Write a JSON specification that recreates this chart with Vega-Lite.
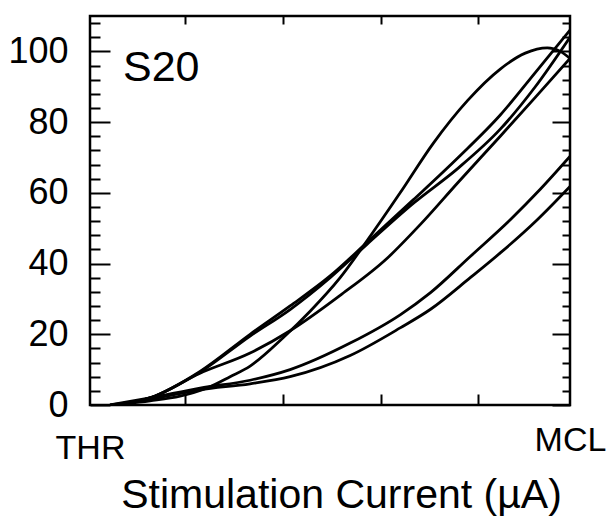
{
  "$schema": "https://vega.github.io/schema/vega-lite/v6.json",
  "autosize": "none",
  "width": 480,
  "height": 389,
  "padding": {"left": 90, "top": 16, "right": 45, "bottom": 111},
  "background": "white",
  "config": {
    "view": {"stroke": "black", "strokeWidth": 2.5},
    "font": "Liberation Sans",
    "axis": {"grid": false, "labelFont": "Liberation Sans", "titleFont": "Liberation Sans", "labelColor": "black", "titleColor": "black", "tickColor": "black", "domainColor": "black", "tickWidth": 2}
  },
  "data": {
    "values": [
      {"curve": "A", "x": 0.0501, "y": 0},
      {"curve": "A", "x": 0.128, "y": 1.2},
      {"curve": "A", "x": 0.1894, "y": 2.5},
      {"curve": "A", "x": 0.2448, "y": 4.8},
      {"curve": "A", "x": 0.2919, "y": 8},
      {"curve": "A", "x": 0.3329, "y": 11},
      {"curve": "A", "x": 0.4005, "y": 19},
      {"curve": "A", "x": 0.4558, "y": 26.5},
      {"curve": "A", "x": 0.5173, "y": 36},
      {"curve": "A", "x": 0.5726, "y": 46.5},
      {"curve": "A", "x": 0.6402, "y": 60},
      {"curve": "A", "x": 0.7079, "y": 74},
      {"curve": "A", "x": 0.7776, "y": 86},
      {"curve": "A", "x": 0.8452, "y": 95},
      {"curve": "A", "x": 0.8964, "y": 99.5},
      {"curve": "A", "x": 0.9415, "y": 101},
      {"curve": "A", "x": 0.9681, "y": 100},
      {"curve": "A", "x": 0.988, "y": 98},
      {"curve": "B1", "x": 0.0624, "y": 0},
      {"curve": "B1", "x": 0.128, "y": 2},
      {"curve": "B1", "x": 0.2304, "y": 9.5},
      {"curve": "B1", "x": 0.3329, "y": 20},
      {"curve": "B1", "x": 0.4148, "y": 28},
      {"curve": "B1", "x": 0.4968, "y": 36.5},
      {"curve": "B1", "x": 0.5726, "y": 46},
      {"curve": "B1", "x": 0.6669, "y": 58},
      {"curve": "B1", "x": 0.7591, "y": 70},
      {"curve": "B1", "x": 0.8452, "y": 82},
      {"curve": "B1", "x": 0.9169, "y": 94},
      {"curve": "B1", "x": 0.988, "y": 106},
      {"curve": "B2", "x": 0.0624, "y": 0},
      {"curve": "B2", "x": 0.128, "y": 2},
      {"curve": "B2", "x": 0.2304, "y": 9.3},
      {"curve": "B2", "x": 0.3329, "y": 19.5},
      {"curve": "B2", "x": 0.4148, "y": 27},
      {"curve": "B2", "x": 0.4968, "y": 36},
      {"curve": "B2", "x": 0.5726, "y": 45.5},
      {"curve": "B2", "x": 0.6669, "y": 57},
      {"curve": "B2", "x": 0.7591, "y": 67},
      {"curve": "B2", "x": 0.8452, "y": 78},
      {"curve": "B2", "x": 0.9169, "y": 90},
      {"curve": "B2", "x": 0.988, "y": 104},
      {"curve": "C", "x": 0.0624, "y": 0},
      {"curve": "C", "x": 0.128, "y": 2},
      {"curve": "C", "x": 0.2304, "y": 9},
      {"curve": "C", "x": 0.3329, "y": 14.7},
      {"curve": "C", "x": 0.4148, "y": 21},
      {"curve": "C", "x": 0.5173, "y": 31},
      {"curve": "C", "x": 0.6136, "y": 41.5},
      {"curve": "C", "x": 0.6812, "y": 51},
      {"curve": "C", "x": 0.7591, "y": 63},
      {"curve": "C", "x": 0.8452, "y": 76},
      {"curve": "C", "x": 0.9169, "y": 87},
      {"curve": "C", "x": 0.988, "y": 98},
      {"curve": "D1", "x": 0.046, "y": 0},
      {"curve": "D1", "x": 0.128, "y": 2},
      {"curve": "D1", "x": 0.2304, "y": 4.8},
      {"curve": "D1", "x": 0.3329, "y": 7},
      {"curve": "D1", "x": 0.4148, "y": 10},
      {"curve": "D1", "x": 0.5378, "y": 17.5},
      {"curve": "D1", "x": 0.6402, "y": 25.5},
      {"curve": "D1", "x": 0.7017, "y": 31.7},
      {"curve": "D1", "x": 0.7837, "y": 42},
      {"curve": "D1", "x": 0.8657, "y": 52.4},
      {"curve": "D1", "x": 0.9271, "y": 61},
      {"curve": "D1", "x": 0.988, "y": 70.3},
      {"curve": "D2", "x": 0.046, "y": 0},
      {"curve": "D2", "x": 0.128, "y": 1.6},
      {"curve": "D2", "x": 0.2304, "y": 4.3},
      {"curve": "D2", "x": 0.3329, "y": 6},
      {"curve": "D2", "x": 0.4148, "y": 8},
      {"curve": "D2", "x": 0.5378, "y": 14},
      {"curve": "D2", "x": 0.6402, "y": 21.8},
      {"curve": "D2", "x": 0.7017, "y": 27},
      {"curve": "D2", "x": 0.7837, "y": 36},
      {"curve": "D2", "x": 0.8452, "y": 43},
      {"curve": "D2", "x": 0.921, "y": 52.4},
      {"curve": "D2", "x": 0.988, "y": 61.8}
    ]
  },
  "resolve": {"axis": {"x": "independent", "y": "independent"}},
  "layer": [
    {
      "mark": {"type": "line", "interpolate": "monotone", "color": "black", "strokeWidth": 2.8, "clip": true},
      "encoding": {
        "x": {"field": "x", "type": "quantitative", "scale": {"domain": [0.005, 0.988], "nice": false, "zero": false},
          "axis": {"orient": "bottom", "values": [0.2, 0.4, 0.6, 0.8], "ticks": true, "tickSize": 11, "offset": -11, "labels": false, "domain": false,
            "title": "Stimulation Current (µA)", "titleFontSize": 41, "titleFontWeight": "normal", "titleBaseline": "alphabetic", "titleX": 251, "titleY": 113, "titleAlign": "center"}},
        "y": {"field": "y", "type": "quantitative", "scale": {"domain": [0, 110], "nice": false},
          "axis": {"orient": "left", "values": [0, 20, 40, 60, 80, 100], "ticks": false, "labelPadding": 22, "labelFontSize": 36, "labelFlush": false, "labelOverlap": false, "domain": false, "title": null}},
        "detail": {"field": "curve", "type": "nominal"}
      }
    },
    {
      "mark": {"type": "point", "opacity": 0},
      "encoding": {
        "x": {"field": "x", "type": "quantitative",
          "axis": {"orient": "top", "values": [0.2, 0.4, 0.6, 0.8], "ticks": true, "tickSize": 8, "offset": -8, "labels": true, "labelOpacity": 0, "labelFontSize": 6, "labelFlush": false, "domain": false, "title": null}},
        "y": {"field": "y", "type": "quantitative",
          "axis": {"orient": "left", "values": [0, 20, 40, 60, 80, 100], "ticks": true, "tickSize": 20, "offset": -20, "labels": true, "labelOpacity": 0, "labelFontSize": 6, "domain": false, "title": null}}
      }
    },
    {
      "mark": {"type": "point", "opacity": 0},
      "encoding": {
        "x": {"field": "x", "type": "quantitative",
          "axis": {"orient": "bottom", "values": [0.005], "labelExpr": "'THR'", "ticks": false, "domain": false, "labelFlush": false, "labelFontSize": 34, "labelBaseline": "alphabetic", "labelPadding": 53, "labelAlign": "center", "title": null}},
        "y": {"field": "y", "type": "quantitative",
          "axis": {"orient": "left", "values": [4, 8, 12, 16, 24, 28, 32, 36, 44, 48, 52, 56, 64, 68, 72, 76, 84, 88, 92, 96, 104, 108], "ticks": true, "tickSize": 10, "offset": -10, "labels": true, "labelOpacity": 0, "labelFontSize": 6, "labelOverlap": false, "domain": false, "title": null}}
      }
    },
    {
      "mark": {"type": "point", "opacity": 0},
      "encoding": {
        "x": {"field": "x", "type": "quantitative",
          "axis": {"orient": "bottom", "values": [0.988], "labelExpr": "'MCL'", "ticks": false, "domain": false, "labelFlush": false, "labelFontSize": 34, "labelBaseline": "alphabetic", "labelPadding": 45, "labelAlign": "center", "title": null}},
        "y": {"field": "y", "type": "quantitative",
          "axis": {"orient": "right", "values": [0, 20, 40, 60, 80, 100], "ticks": true, "tickSize": 18, "offset": -18, "labels": true, "labelOpacity": 0, "labelFontSize": 6, "domain": false, "title": null}}
      }
    },
    {
      "mark": {"type": "point", "opacity": 0},
      "encoding": {
        "x": {"field": "x", "type": "quantitative", "axis": null},
        "y": {"field": "y", "type": "quantitative",
          "axis": {"orient": "right", "values": [4, 8, 12, 16, 24, 28, 32, 36, 44, 48, 52, 56, 64, 68, 72, 76, 84, 88, 92, 96, 104, 108], "ticks": true, "tickSize": 8, "offset": -8, "labels": true, "labelOpacity": 0, "labelFontSize": 6, "labelOverlap": false, "domain": false, "title": null}}
      }
    },
    {
      "data": {"values": [{"x": 0.0726, "y": 95.2, "label": "S20"}]},
      "mark": {"type": "text", "align": "left", "baseline": "middle", "fontSize": 43, "font": "Liberation Sans", "color": "black"},
      "encoding": {
        "x": {"field": "x", "type": "quantitative", "axis": null},
        "y": {"field": "y", "type": "quantitative", "axis": null},
        "text": {"field": "label"}
      }
    }
  ]
}
